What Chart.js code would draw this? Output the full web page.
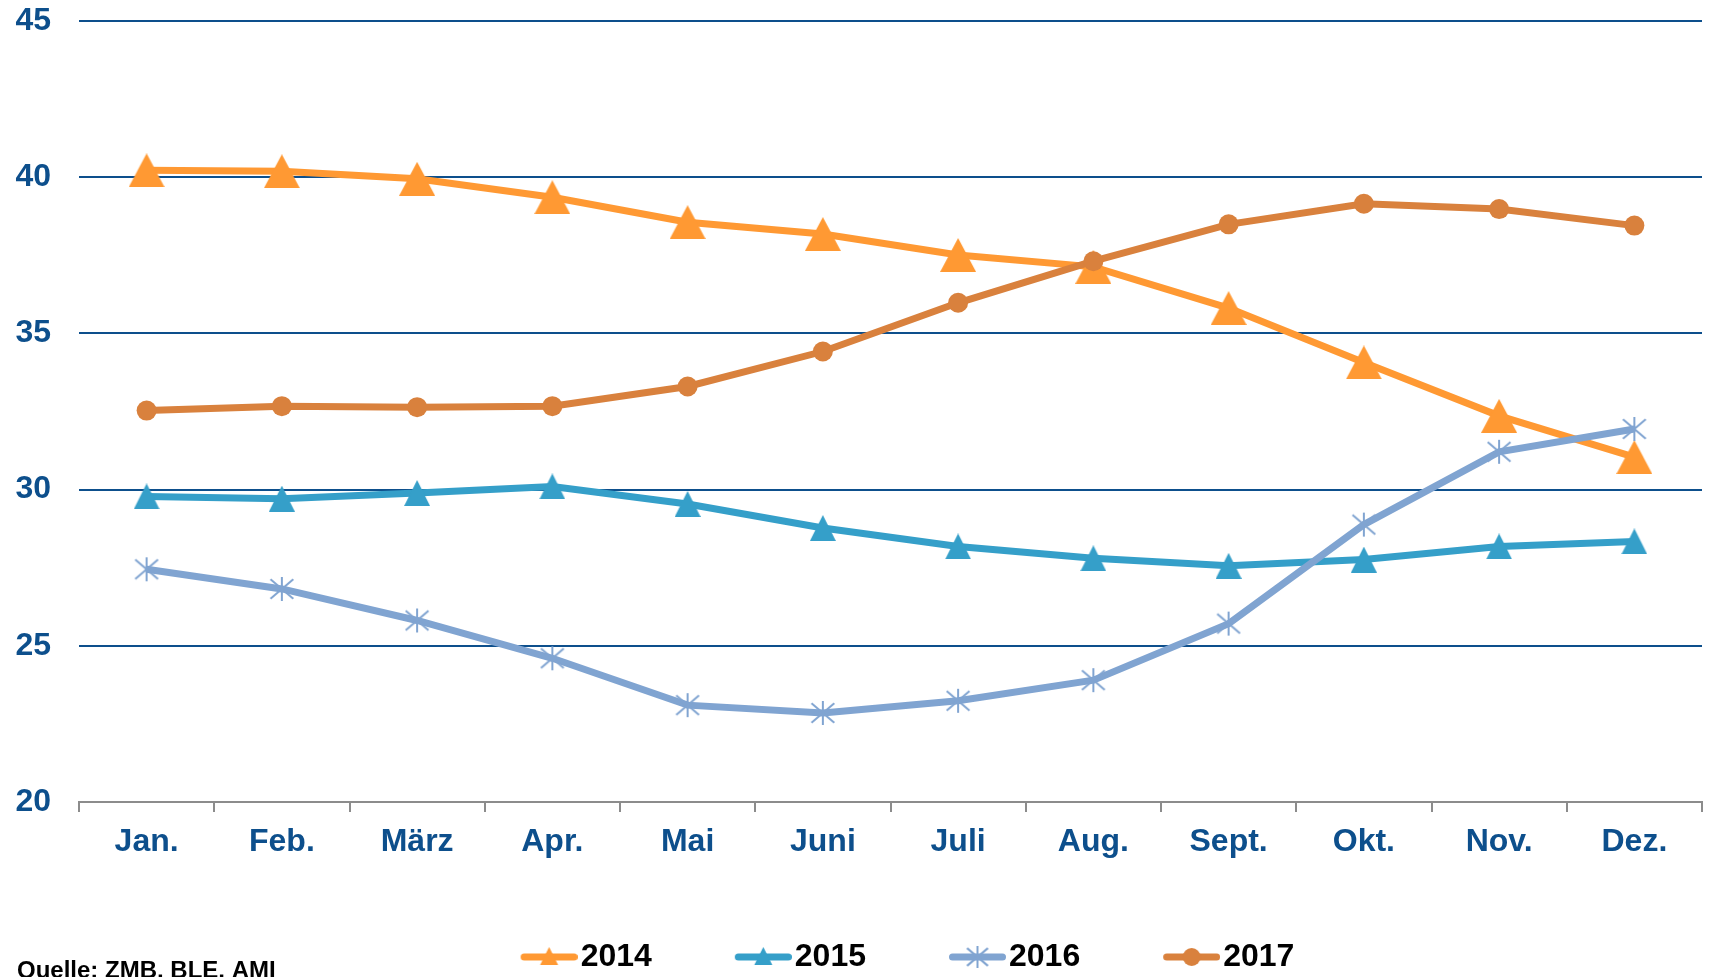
<!DOCTYPE html>
<html lang="de">
<head>
<meta charset="UTF-8">
<title>Preise 2014-2017</title>
<script src="https://cdn.jsdelivr.net/npm/chart.js"></script>
<style>
    body {
        margin: 0;
        padding: 0;
        background: #fff;
        overflow: hidden;
    }
    .chart-box {
        width: 1709px;
        height: 1000px;
        position: relative;
    }
</style>
</head>
<body>
<div class="chart-box">
    <canvas id="preisChart"></canvas>
</div>
<script>
    const monate = ['Jan.', 'Feb.', 'März', 'Apr.', 'Mai', 'Juni', 'Juli', 'Aug.', 'Sept.', 'Okt.', 'Nov.', 'Dez.'];
    const werte2014 = [40.22, 40.19, 39.95, 39.36, 38.56, 38.18, 37.51, 37.13, 35.81, 34.07, 32.36, 31.04];
    const werte2015 = [29.78, 29.71, 29.89, 30.10, 29.54, 28.77, 28.18, 27.80, 27.56, 27.76, 28.18, 28.34];
    const werte2016 = [27.45, 26.82, 25.81, 24.60, 23.10, 22.85, 23.24, 23.90, 25.71, 28.88, 31.21, 31.94];
    const werte2017 = [32.53, 32.67, 32.64, 32.67, 33.30, 34.42, 35.98, 37.31, 38.49, 39.15, 38.98, 38.45];
    const yTicks = [20, 25, 30, 35, 40, 45];
    const quelle = 'Quelle: ZMB, BLE, AMI';

    const blau = '#0d4f8c';
    const farben = {
        j2014: '#ff9933',
        j2015: '#359fc9',
        j2016: '#80a4d1',
        j2017: '#d9813d'
    };
    const schrift = 'Arial, "Liberation Sans", sans-serif';

    // Sternchen-Marker (senkrecht + X)
    function sternchen(farbe, r) {
        const c = document.createElement('canvas');
        c.width = r * 2 + 2;
        c.height = r * 2 + 2;
        const g = c.getContext('2d');
        g.strokeStyle = farbe;
        g.lineWidth = 2;
        const m = r + 1;
        g.beginPath();
        g.moveTo(m, m - r); g.lineTo(m, m + r);
        const d = r * 0.95;
        g.moveTo(m - d, m - d * 0.85); g.lineTo(m + d, m + d * 0.85);
        g.moveTo(m - d, m + d * 0.85); g.lineTo(m + d, m - d * 0.85);
        g.stroke();
        return c;
    }

    // Dreieck, mittig um den Punkt (wie im Original)
    function dreieck(farbe, b, h) {
        const c = document.createElement('canvas');
        c.width = b;
        c.height = h;
        const g = c.getContext('2d');
        g.fillStyle = farbe;
        g.beginPath();
        g.moveTo(b / 2, 0); g.lineTo(b, h); g.lineTo(0, h);
        g.closePath();
        g.fill();
        return c;
    }

    // Legendensymbol: Linie mit Marker, rechtsbündig im (breiten) Bild
    const SYMBOL_BOX = 107;
    function legendenSymbol(farbe, art) {
        const c = document.createElement('canvas');
        c.width = SYMBOL_BOX + 26;
        c.height = 26;
        const g = c.getContext('2d');
        const x0 = c.width - 57;
        const mx = x0 + 28.5;
        g.strokeStyle = farbe;
        g.fillStyle = farbe;
        g.lineWidth = 7;
        g.lineCap = 'round';
        g.beginPath();
        g.moveTo(x0 + 3.5, 13); g.lineTo(x0 + 53.5, 13);
        g.stroke();
        if (art === 'triangle') {
            g.beginPath();
            g.moveTo(mx, 3); g.lineTo(mx + 9, 21); g.lineTo(mx - 9, 21);
            g.closePath();
            g.fill();
        } else if (art === 'circle') {
            g.beginPath();
            g.arc(mx, 13, 9, 0, Math.PI * 2);
            g.fill();
        } else {
            g.drawImage(sternchen(farbe, 11), mx - 12, 13 - 12);
        }
        return c;
    }

    const legendenBilder = [
        legendenSymbol(farben.j2014, 'triangle'),
        legendenSymbol(farben.j2015, 'triangle'),
        legendenSymbol(farben.j2016, 'star'),
        legendenSymbol(farben.j2017, 'circle')
    ];

    const quellePlugin = {
        id: 'quelle',
        afterLayout(chart) {
            // Legende etwas nach rechts schieben wie im Original
            const lg = chart.legend;
            if (lg) {
                lg.left += 25;
                lg.right += 25;
            }
        },
        afterDraw(chart) {
            const ctx = chart.ctx;
            ctx.save();
            ctx.font = 'bold 24px ' + schrift;
            ctx.fillStyle = '#000';
            ctx.textBaseline = 'alphabetic';
            ctx.textAlign = 'left';
            ctx.fillText(quelle, 17, 978);
            ctx.restore();
        }
    };

    const ctx = document.getElementById('preisChart').getContext('2d');
    new Chart(ctx, {
        type: 'line',
        data: {
            labels: monate,
            datasets: [
                {
                    label: '2014',
                    data: werte2014,
                    borderColor: farben.j2014,
                    backgroundColor: farben.j2014,
                    borderWidth: 7,
                    pointStyle: dreieck(farben.j2014, 36, 34),
                    pointRadius: 17,
                    order: 4
                },
                {
                    label: '2015',
                    data: werte2015,
                    borderColor: farben.j2015,
                    backgroundColor: farben.j2015,
                    borderWidth: 7,
                    pointStyle: dreieck(farben.j2015, 26, 26),
                    pointRadius: 13,
                    order: 3
                },
                {
                    label: '2016',
                    data: werte2016,
                    borderColor: farben.j2016,
                    backgroundColor: farben.j2016,
                    borderWidth: 7,
                    pointStyle: sternchen(farben.j2016, 12),
                    pointRadius: 12,
                    order: 2
                },
                {
                    label: '2017',
                    data: werte2017,
                    borderColor: farben.j2017,
                    backgroundColor: farben.j2017,
                    borderWidth: 7,
                    pointStyle: 'circle',
                    pointRadius: 10,
                    pointBorderWidth: 0,
                    order: 1
                }
            ]
        },
        options: {
            responsive: true,
            maintainAspectRatio: false,
            animation: false,
            layout: {
                autoPadding: false,
                padding: { top: 21, right: 7, bottom: 17, left: 0 }
            },
            plugins: {
                legend: {
                    position: 'bottom',
                    labels: {
                        usePointStyle: true,
                        pointStyleWidth: SYMBOL_BOX,
                        padding: 20,
                        color: '#000',
                        font: { family: schrift, size: 32, weight: 'bold' },
                        generateLabels: chart => chart.data.datasets.map((ds, i) => ({
                            text: ds.label,
                            pointStyle: legendenBilder[i],
                            fillStyle: 'transparent',
                            strokeStyle: 'transparent',
                            lineWidth: 0,
                            fontColor: '#000',
                            hidden: false,
                            datasetIndex: i
                        }))
                    }
                },
                tooltip: { enabled: false }
            },
            scales: {
                x: {
                    offset: true,
                    afterFit: s => {
                        s.height = 119;
                        s.paddingLeft = 0;
                        s.paddingRight = 0;
                    },
                    grid: {
                        offset: true,
                        drawOnChartArea: false,
                        tickLength: 10,
                        color: '#8c8c8c',
                        lineWidth: 2
                    },
                    border: { color: '#8c8c8c', width: 2 },
                    ticks: {
                        color: blau,
                        padding: 11,
                        font: { family: schrift, size: 32, weight: 'bold' }
                    }
                },
                y: {
                    min: 20,
                    max: 45,
                    afterFit: s => {
                        s.width = 79;
                        s.paddingTop = 0;
                        s.paddingBottom = 0;
                    },
                    afterBuildTicks: s => { s.ticks = yTicks.map(v => ({ value: v })); },
                    border: { display: false },
                    grid: {
                        drawTicks: false,
                        lineWidth: 2,
                        color: c => (c.tick && c.tick.value === 20) ? 'rgba(0,0,0,0)' : blau
                    },
                    ticks: {
                        color: blau,
                        padding: 28,
                        font: { family: schrift, size: 32, weight: 'bold' }
                    }
                }
            }
        },
        plugins: [quellePlugin]
    });
</script>
</body>
</html>
